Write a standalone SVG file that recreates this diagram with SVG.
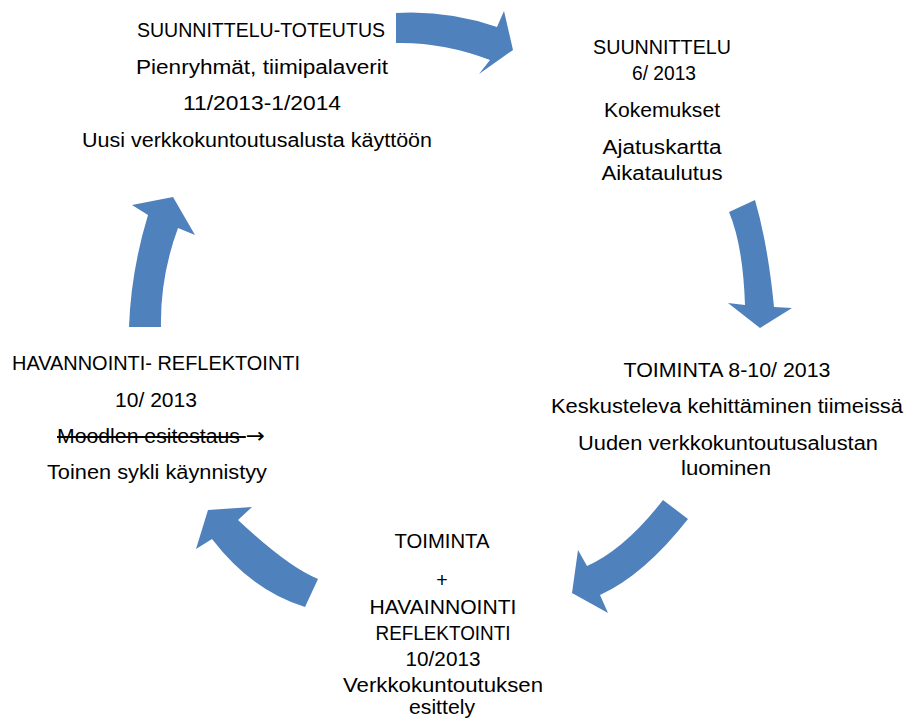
<svg xmlns="http://www.w3.org/2000/svg" width="904" height="720" viewBox="0 0 904 720">
<style>
.t{font-family:"Liberation Sans",Arial,sans-serif;font-size:19.5px;fill:#000;text-anchor:middle}
.a{fill:#4F81BD;stroke:none}
.s{text-decoration:line-through}
.ar{font-family:"DejaVu Sans",sans-serif;font-size:21px}
</style>
<rect width="904" height="720" fill="#fff"/>
<g id="connectors">
<path class="a" d="M396,13 Q447,10 497,27 L504,11 L513,50 L479,74 L490,60 Q443,42 396,43 Z"/>
<path class="a" d="M755,200 Q768,245 774,307 L792,308 L760,328 L728,303 L745,305 Q743,245 729,212 Z"/>
<path class="a" d="M688,519 Q644,575 600,595 L608,613 L572,593 L578,550 L587,566 Q625,549 663,500 Z"/>
<path class="a" d="M305,607 Q252,591 212,539 L196,549 L208,510 L252,507 L238,520 Q288,567 318,579 Z"/>
<path class="a" d="M129,327 Q131,271 148,215 L132,205 L173,197 L195,235 L178,228 Q160,277 161,327 Z"/>
</g>
<g id="node-suunnittelu-toteutus">
<text class="t" x="261" y="37" textLength="248" lengthAdjust="spacingAndGlyphs">SUUNNITTELU-TOTEUTUS</text>
<text class="t" x="262" y="74" textLength="252" lengthAdjust="spacingAndGlyphs">Pienryhmät, tiimipalaverit</text>
<text class="t" x="262" y="110" textLength="158" lengthAdjust="spacingAndGlyphs">11/2013-1/2014</text>
<text class="t" x="257" y="147" textLength="350" lengthAdjust="spacingAndGlyphs">Uusi verkkokuntoutusalusta käyttöön</text>
</g>
<g id="node-suunnittelu">
<text class="t" x="662" y="54" textLength="138" lengthAdjust="spacingAndGlyphs">SUUNNITTELU</text>
<text class="t" x="664" y="80" textLength="64" lengthAdjust="spacingAndGlyphs">6/ 2013</text>
<text class="t" x="662" y="117" textLength="116" lengthAdjust="spacingAndGlyphs">Kokemukset</text>
<text class="t" x="662" y="154" textLength="119" lengthAdjust="spacingAndGlyphs">Ajatuskartta</text>
<text class="t" x="662" y="180" textLength="121" lengthAdjust="spacingAndGlyphs">Aikataulutus</text>
</g>
<g id="node-toiminta">
<text class="t" x="727" y="377" textLength="207" lengthAdjust="spacingAndGlyphs">TOIMINTA 8-10/ 2013</text>
<text class="t" x="727" y="413" textLength="352" lengthAdjust="spacingAndGlyphs">Keskusteleva kehittäminen tiimeissä</text>
<text class="t" x="728" y="450" textLength="300" lengthAdjust="spacingAndGlyphs">Uuden verkkokuntoutusalustan</text>
<text class="t" x="726" y="475" textLength="90" lengthAdjust="spacingAndGlyphs">luominen</text>
</g>
<g id="node-toiminta-havainnointi">
<text class="t" x="442" y="548" textLength="95" lengthAdjust="spacingAndGlyphs">TOIMINTA</text>
<text class="t" x="442" y="587">+</text>
<text class="t" x="443" y="614" textLength="147" lengthAdjust="spacingAndGlyphs">HAVAINNOINTI</text>
<text class="t" x="443" y="640" textLength="135" lengthAdjust="spacingAndGlyphs">REFLEKTOINTI</text>
<text class="t" x="443" y="666" textLength="75" lengthAdjust="spacingAndGlyphs">10/2013</text>
<text class="t" x="443" y="692" textLength="200" lengthAdjust="spacingAndGlyphs">Verkkokuntoutuksen</text>
<text class="t" x="442" y="714" textLength="66" lengthAdjust="spacingAndGlyphs">esittely</text>
</g>
<g id="node-havannointi">
<text class="t" x="156" y="370" textLength="288" lengthAdjust="spacingAndGlyphs">HAVANNOINTI- REFLEKTOINTI</text>
<text class="t" x="156" y="407" textLength="82" lengthAdjust="spacingAndGlyphs">10/ 2013</text>
<text class="t" x="161" y="443" textLength="208" lengthAdjust="spacingAndGlyphs"><tspan class="s">Moodlen esitestaus </tspan><tspan class="ar">→</tspan></text>
<text class="t" x="157" y="479" textLength="220" lengthAdjust="spacingAndGlyphs">Toinen sykli käynnistyy</text>
</g>
</svg>
